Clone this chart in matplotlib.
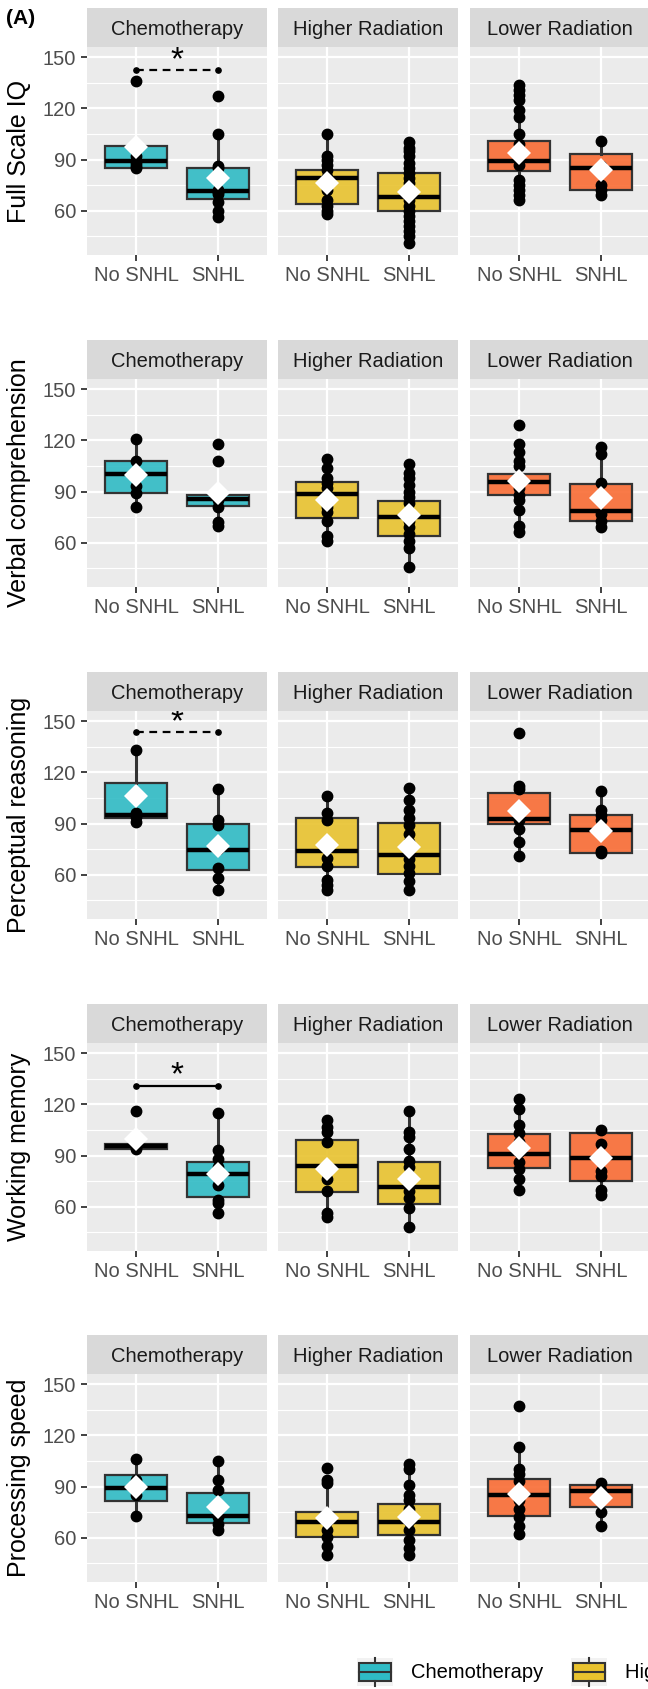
import matplotlib
matplotlib.use("Agg")
import matplotlib.pyplot as plt
from matplotlib.patches import Patch, Rectangle
from matplotlib.lines import Line2D
from matplotlib.legend_handler import HandlerBase
from matplotlib.colors import to_rgba

plt.rcParams['font.family'] = ['Liberation Sans', 'DejaVu Sans']

# facets
measures = ["Full Scale IQ", "Verbal comprehension", "Perceptual reasoning",
            "Working memory", "Processing speed"]
treatments = ["Chemotherapy", "Higher Radiation", "Lower Radiation"]
hearing = ["No SNHL", "SNHL"]
colors = ["#2FBBC5", "#E8C22E", "#F96C34"]

# box statistics, one row per measure, groups ordered
# Chemo/No, Chemo/SNHL, Higher/No, Higher/SNHL, Lower/No, Lower/SNHL
q1 = [[85, 66.6, 64, 60, 83, 72],
      [89, 81.7, 74.6, 63.7, 88, 72.6],
      [93, 62.5, 64.7, 60.4, 90, 73],
      [93.6, 65.8, 68.6, 61.7, 82.6, 74.8],
      [81.6, 68.4, 60.6, 61.6, 72.6, 77.7]]
med = [[89, 71.5, 79, 68, 89, 85],
       [100, 85.4, 88.5, 75, 95.3, 78.8],
       [95, 74.6, 74, 71.5, 92.5, 86],
       [95.6, 79.2, 84, 71.3, 91, 88.5],
       [89.3, 72.7, 69.4, 69.3, 85, 87.2]]
q3 = [[98, 85, 84, 82, 101, 93],
      [108, 88, 95.3, 84.6, 100.5, 94.7],
      [113.6, 89.7, 93.3, 90.2, 108, 95],
      [96.5, 86.4, 99.2, 86.1, 102.5, 103],
      [97, 86.2, 75.2, 80, 94.6, 91.1]]
whisk_lo = [[85, 55.5, 58, 41, 66, 69],
            [81, 72, 61, 46, 70, 69],
            [91, 51, 51, 50.6, 71, 73],
            [93.6, 55.7, 54, 48, 70, 67.5],
            [72.6, 64.5, 50, 50, 62, 66.8]]
whisk_hi = [[98, 105, 105, 100, 134, 101],
            [121, 88, 109, 106, 118, 116],
            [133, 110, 106.5, 111, 112, 109.5],
            [96.5, 115, 111, 116, 123.5, 105],
            [106, 105, 94, 103, 113, 91.7]]
group_mean = [[97.4, 79.3, 76, 71, 94, 84],
              [99.8, 88.9, 85, 76.3, 96, 86],
              [106.3, 77, 77.3, 76, 97.4, 85.7],
              [99.8, 79, 82, 76.4, 94.7, 88.5],
              [89.7, 78, 71.3, 72, 85.8, 83.5]]

# individual scores
fsiq_pts = [[136, 98, 92, 90, 88, 86, 85],
            [127, 105, 86, 85, 72, 71, 70, 65, 60, 56],
            [105, 92, 90, 87, 84, 80, 76, 72, 66, 63, 60, 58],
            [100, 97, 95, 92, 88, 85, 82, 79, 76, 72, 70, 68, 66, 63, 60, 57, 54, 51, 48, 45, 41],
            [134, 131, 128, 125, 119, 115, 105, 99, 94, 90, 87, 78, 75, 72, 69, 66],
            [101, 86, 75, 72, 69]]
vc_pts = [[121, 108, 93, 89, 81],
          [118, 108, 88, 86, 85, 81, 72, 70],
          [109, 104, 98, 95, 92, 81, 78, 73, 64, 61],
          [106, 101, 98, 94, 90, 87, 83, 78, 73, 69, 65, 61, 57, 46],
          [129, 118, 113, 108, 105, 98, 92, 88, 85, 79, 70, 66],
          [116, 112, 95, 77, 73, 69]]
pr_pts = [[133, 96, 94, 91],
          [110, 92, 89, 75, 64, 58, 51],
          [106, 96, 92, 70, 65, 57, 54, 51],
          [111, 104, 98, 93, 89, 84, 79, 75, 69, 65, 61, 56, 51],
          [143, 112, 110, 92, 87, 79, 71],
          [109, 98, 95, 92, 74, 73]]
wm_pts = [[116, 96, 95, 94],
          [115, 93, 88, 83, 73, 64, 62, 56],
          [111, 107, 104, 98, 76, 69, 56, 54],
          [116, 104, 101, 94, 87, 83, 78, 69, 65, 59, 48],
          [123, 117, 108, 103, 98, 92, 86, 82, 76, 70],
          [105, 97, 81, 78, 70, 67]]
ps_pts = [[106, 94, 85, 73],
          [105, 94, 88, 72, 68, 64.5],
          [101, 94, 92, 70, 64.5, 60.6, 55, 50],
          [103, 100, 91, 85, 82, 77, 70, 64.5, 58.6, 54, 50],
          [137, 113, 100, 97.5, 93, 87, 82, 77, 72, 67, 62],
          [92, 88, 75, 67]]
all_pts = [fsiq_pts, vc_pts, pr_pts, wm_pts, ps_pts]

# significance brackets on the Chemotherapy facet (None = no bracket)
bracket_y = [142.6, None, 143.8, 131, None]
bracket_style = ["--", None, "--", "-", None]

# layout in pixels
W, H = 648, 1689
strip_tops = [8, 340, 672, 1004, 1335]
col_lefts = [87, 278, 470]
pw, ph, sh = 180, 208, 39

fig = plt.figure(figsize=(W / 100, H / 100), dpi=100)

for r, meas in enumerate(measures):
    top = strip_tops[r]
    for c, treat in enumerate(treatments):
        left = col_lefts[c]
        ax = fig.add_axes([left / W, 1 - (top + sh + ph) / H, pw / W, ph / H])
        ax.set_facecolor("#EBEBEB")
        for s in ax.spines.values():
            s.set_visible(False)
        ax.set_axisbelow(True)
        ax.set_xlim(0.4, 2.6)
        ax.set_ylim(34, 156)
        ax.set_yticks([60, 90, 120, 150])
        ax.set_yticks([45, 75, 105, 135], minor=True)
        ax.set_xticks([1, 2])
        ax.set_xticklabels(hearing)
        ax.grid(which="major", color="white", lw=1.6)
        ax.grid(which="minor", axis="y", color="white", lw=0.8)
        ax.tick_params(axis="both", which="major", length=4.5, width=1.3,
                       color="#333333", labelcolor="#4D4D4D", labelsize=14.5, pad=3.5)
        ax.tick_params(axis="y", which="minor", length=0)
        if c > 0:
            ax.tick_params(axis="y", which="major", length=0, labelleft=False)

        stats = []
        for k in range(2):
            g = 2 * c + k
            stats.append(dict(q1=q1[r][g], med=med[r][g], q3=q3[r][g],
                              whislo=whisk_lo[r][g], whishi=whisk_hi[r][g],
                              mean=group_mean[r][g], fliers=[]))
        ax.bxp(stats, positions=[1, 2], widths=0.75, patch_artist=True,
               showfliers=False, showcaps=False, manage_ticks=False,
               boxprops=dict(facecolor=to_rgba(colors[c], 0.9), edgecolor="#333333", lw=1.6),
               whiskerprops=dict(color="#333333", lw=2.2),
               medianprops=dict(color="black", lw=3.2))
        for k in range(2):
            g = 2 * c + k
            ys = all_pts[r][g]
            ax.plot([k + 1] * len(ys), ys, "o", color="black", ms=7.5, zorder=3)
            ax.plot(k + 1, group_mean[r][g], "D", color="white", ms=12.5, mew=0, zorder=4)

        if c == 0 and bracket_y[r] is not None:
            by = bracket_y[r]
            ax.plot([1, 2], [by, by], bracket_style[r], color="black", lw=1.6,
                    dashes=(3.5, 2.5) if bracket_style[r] == "--" else (None, None), zorder=5)
            ax.plot([1, 2], [by, by], "o", color="black", ms=3.8, zorder=5)
            ax.text(1.5, by + 5.5, "*", ha="center", va="center", fontsize=24, zorder=5)

        sax = fig.add_axes([left / W, 1 - (top + sh) / H, pw / W, sh / H])
        sax.set_facecolor("#D9D9D9")
        sax.set_xticks([])
        sax.set_yticks([])
        for s in sax.spines.values():
            s.set_visible(False)
        sax.text(0.5, 0.45, treat, ha="center", va="center", fontsize=14.5,
                 color="#1A1A1A", transform=sax.transAxes)

    fig.text(19 / W, 1 - (top + sh + ph / 2) / H, meas, rotation=90,
             ha="center", va="center", fontsize=18)

fig.text(6 / W, 1 - 18 / H, "(A)", ha="left", va="center", fontsize=15, fontweight="bold")


class BoxKey(HandlerBase):
    def create_artists(self, legend, orig_handle, xdescent, ydescent,
                       width, height, fontsize, trans):
        x0, y0 = -xdescent, -ydescent
        bg = Rectangle((x0, y0), width, height, fc="#F2F2F2", ec="none", transform=trans)
        bx = Rectangle((x0 + 0.06 * width, y0 + 0.2 * height), 0.88 * width, 0.6 * height,
                       fc=orig_handle.get_facecolor(), ec="#333333", lw=1.5, transform=trans)
        md = Line2D([x0 + 0.06 * width, x0 + 0.94 * width], [y0 + 0.5 * height] * 2,
                    color="#333333", lw=1.5, transform=trans)
        w1 = Line2D([x0 + width / 2] * 2, [y0, y0 + 0.2 * height], color="#333333", lw=1.5, transform=trans)
        w2 = Line2D([x0 + width / 2] * 2, [y0 + 0.8 * height, y0 + height], color="#333333", lw=1.5, transform=trans)
        return [bg, bx, md, w1, w2]


handles = [Patch(facecolor=col) for col in colors]
fig.legend(handles, treatments, loc="center left", bbox_to_anchor=(357 / W, 1 - 1672 / H),
           ncol=3, frameon=False, fontsize=14.5, handlelength=1.8, handleheight=1.8,
           handletextpad=0.9, columnspacing=1.35, borderpad=0, borderaxespad=0,
           handler_map={Patch: BoxKey()})

fig.savefig("out.png", dpi=100)
